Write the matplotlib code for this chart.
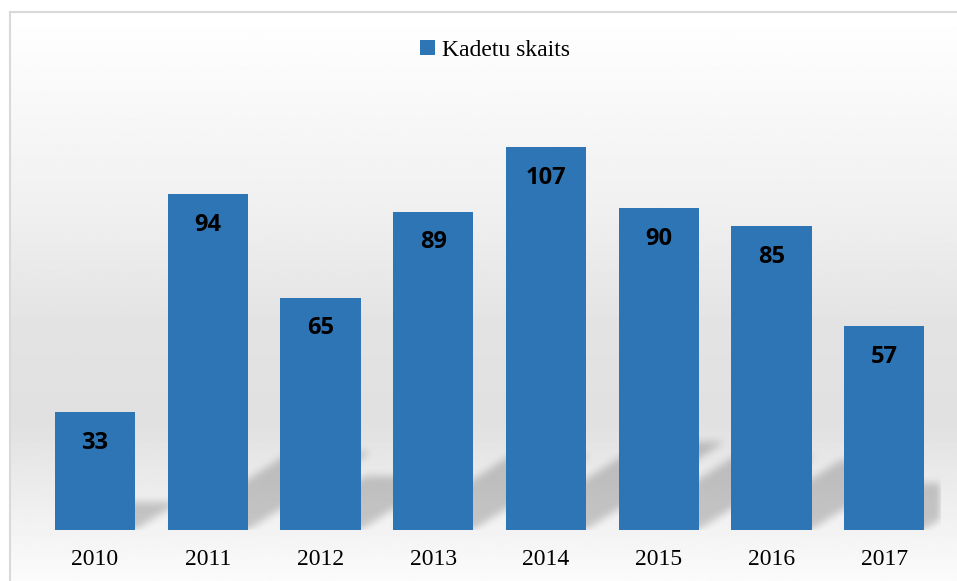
import numpy as np
import matplotlib.pyplot as plt

# dati
years = ['2010', '2011', '2012', '2013', '2014', '2015', '2016', '2017']
cadets = [33, 94, 65, 89, 107, 90, 85, 57]
series_name = 'Kadetu skaits'

bar_color = '#2E75B6'
bar_width = 0.71

fig = plt.figure(figsize=(9.57, 5.81), dpi=100)
fig.patch.set_facecolor('white')

# fons ar gradientu un rāmi
bg = fig.add_axes([10 / 957, 0, 1 - 10 / 957, 1 - 12 / 581])
stops_y = [0.0, 0.12, 0.35, 0.55, 0.72, 0.85, 1.0]
stops_c = [1.00, 0.98, 0.94, 0.89, 0.88, 0.93, 0.985]
yy = np.linspace(0, 1, 300)
grad = np.interp(yy, stops_y, stops_c)[:, None]
bg.imshow(np.repeat(grad, 2, axis=1), cmap='gray', vmin=0, vmax=1,
          aspect='auto', extent=[0, 1, 1, 0])
bg.set_xlim(0, 1)
bg.set_ylim(1, 0)
bg.set_xticks([])
bg.set_yticks([])
for s in ['right', 'bottom']:
    bg.spines[s].set_visible(False)
for s in ['top', 'left']:
    bg.spines[s].set_color('#d9d9d9')
    bg.spines[s].set_linewidth(1.5)

# galvenais grafiks
ax = fig.add_axes([38.6 / 957, (581 - 530) / 581, (940.6 - 38.6) / 957, 429 / 581])
ax.patch.set_alpha(0)
x = np.arange(len(years))
ax.set_xlim(-0.5, len(years) - 0.5)
ax.set_ylim(0, 120)

# ēnas aiz stabiņiem (slīpas, izpludinātas)
nx, ny = 902, 429
gx = np.linspace(-0.5, len(years) - 0.5, nx)
gy = np.linspace(0, 120, ny)
GX, GY = np.meshgrid(gx, gy)
mask = np.zeros((ny, nx))
k, c = 0.23, 0.05
for xi, v in zip(x, cadets):
    shift = GY * c
    inside = (GY <= k * v) & (GX >= xi - bar_width / 2 + shift) & (GX <= xi + bar_width / 2 + shift)
    mask[inside] = 1.0
kern = np.ones(9) / 9
for _ in range(2):
    mask = np.apply_along_axis(lambda r: np.convolve(r, kern, mode='same'), 1, mask)
    mask = np.apply_along_axis(lambda r: np.convolve(r, kern, mode='same'), 0, mask)
shadow = np.zeros((ny, nx, 4))
shadow[..., 3] = np.clip(mask, 0, 1) * 0.19
ax.imshow(shadow, origin='lower', aspect='auto', zorder=1,
          extent=[-0.5, len(years) - 0.5, 0, 120])

bars = ax.bar(x, cadets, width=bar_width, color=bar_color, label=series_name, zorder=3)

for xi, v in zip(x, cadets):
    ax.annotate(str(v), (xi, v), xytext=(0, -22), textcoords='offset points',
                ha='center', va='center', fontsize=17, fontweight='bold',
                family='Open Sans', color='black', zorder=4)

ax.set_xticks(x)
ax.set_xticklabels(years, family='Liberation Serif', fontsize=17)
ax.tick_params(axis='x', length=0, pad=14)
ax.set_yticks([])
for s in ax.spines.values():
    s.set_visible(False)

leg = fig.legend(loc='center', bbox_to_anchor=(495 / 957, 1 - 50 / 581),
                 frameon=False, handlelength=0.6, handleheight=0.6,
                 handletextpad=0.3, prop={'family': 'Liberation Serif', 'size': 17})

fig.savefig('out.png', dpi=100)
